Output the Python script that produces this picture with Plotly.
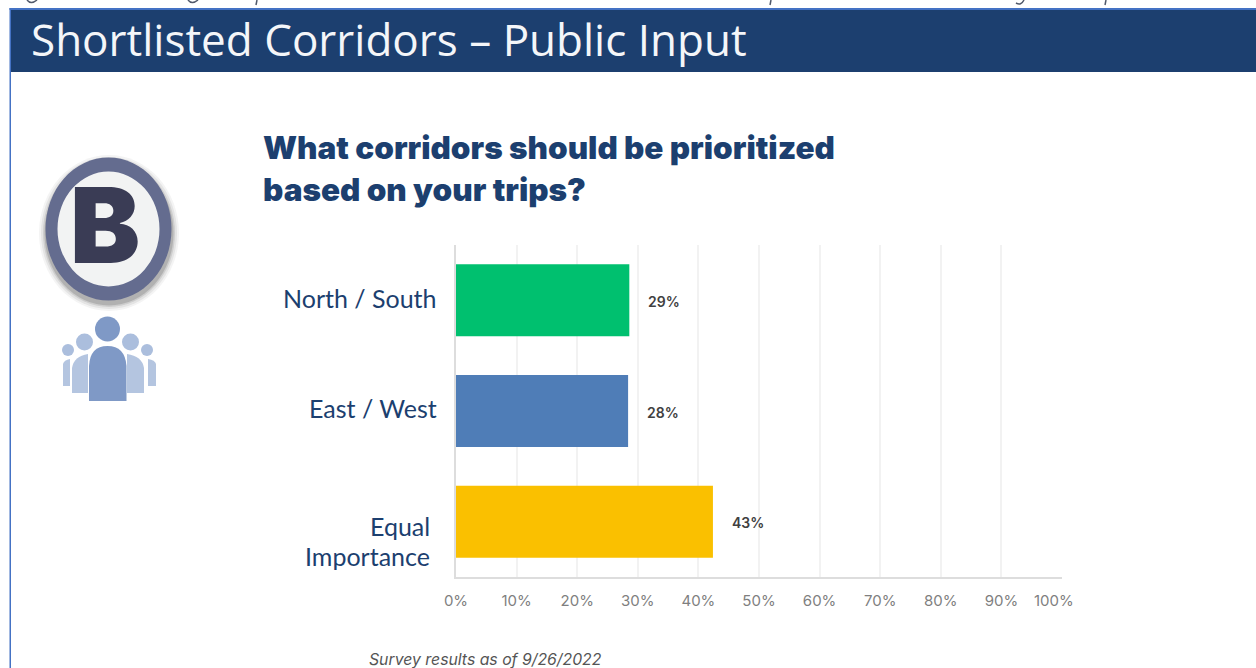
import plotly.graph_objects as go

W, H = 1256, 668

categories = ["North / South", "East / West", "Equal Importance"]
values = [28.6, 28.4, 42.4]
value_labels = ["29%", "28%", "43%"]
bar_colors = ["#00C06F", "#4F7DB7", "#FAC000"]
tick_values = [0, 10, 20, 30, 40, 50, 60, 70, 80, 90, 100]
tick_labels = ["0%", "10%", "20%", "30%", "40%", "50%", "60%", "70%", "80%", "90%", ""]
banner_title = "Shortlisted Corridors – Public Input"
question_lines = ["What corridors should be prioritized", "based on your trips?"]
footnote = "Survey results as of 9/26/2022"

NAVY = "#1C3F6F"
FRAME = "#4472C4"


def px(x):
    return x / W


def py(y):
    return 1 - y / H


def rect(x0, y0, x1, y1, color):
    return dict(type="rect", xref="paper", yref="paper", layer="below",
                x0=px(x0), x1=px(x1), y0=py(y0), y1=py(y1), fillcolor=color,
                line=dict(width=0))


def oval(cx, cy, rx, ry, color, opacity=1):
    return dict(type="circle", xref="paper", yref="paper", layer="below",
                x0=px(cx - rx), x1=px(cx + rx), y0=py(cy - ry), y1=py(cy + ry),
                fillcolor=color, opacity=opacity, line=dict(width=0))


def path(points, color=None, stroke=None, width=0, close=True):
    parts = []
    for p in points:
        if p[0] == "Q":
            parts.append(f"Q{px(p[1]):.5f},{py(p[2]):.5f} {px(p[3]):.5f},{py(p[4]):.5f}")
        else:
            cmd = "M" if not parts else "L"
            parts.append(f"{cmd}{px(p[0]):.5f},{py(p[1]):.5f}")
    d = " ".join(parts) + (" Z" if close else "")
    return dict(type="path", xref="paper", yref="paper", layer="below", path=d,
                fillcolor=color if color else "rgba(0,0,0,0)",
                line=dict(width=width, color=stroke) if width else dict(width=0))


shapes = []
# slide frame and banner
shapes.append(rect(9.5, 8, 11, H, FRAME))
shapes.append(rect(9.5, 8, W, 10, FRAME))
shapes.append(rect(11, 10, W, 72, NAVY))

# clipped descenders of the line of text above the slide
for x in (32, 193):
    shapes.append(path([(x - 5, 0), ("Q", x - 1, 5, x + 5, 0)], stroke="#50586A", width=1.5, close=False))
for x in (256, 770, 1105):
    shapes.append(path([(x + 1, 0), (x, 5)], stroke="#50586A", width=1.5, close=False))
shapes.append(path([(1016, 3), ("Q", 1021, 6, 1024, 0)], stroke="#50586A", width=1.5, close=False))

# "B" badge with soft shadow, heavier below the ring
for grow, op in ((7, 0.05), (5, 0.08), (3, 0.12), (1.5, 0.18)):
    shapes.append(oval(109, 233, 63 + grow, 71 + grow, "#303030", op))
shapes.append(oval(108.5, 229, 63, 71.5, "#646C8F"))
shapes.append(oval(108.5, 229, 51, 57.5, "#F2F3F3"))

# people icon
LIGHT = "#B4C5E0"
MID = "#ABBEDD"
DARK = "#7F99C6"
shapes.append(oval(68, 350, 6, 6, MID))
shapes.append(oval(147, 350, 6, 6, MID))
shapes.append(path([(63, 386), (63, 364), ("Q", 64, 360, 70, 359), (70, 386)], LIGHT))
shapes.append(path([(156, 386), (156, 364), ("Q", 155, 360, 148, 359), (148, 386)], LIGHT))
shapes.append(oval(84.5, 342, 8.5, 8.5, MID))
shapes.append(oval(130.5, 342, 8.5, 8.5, MID))
shapes.append(path([(72, 393), (72, 368), ("Q", 74, 356, 88, 354), (88, 393)], LIGHT))
shapes.append(path([(144, 393), (144, 368), ("Q", 142, 356, 127, 354), (127, 393)], LIGHT))
shapes.append(oval(107.5, 329, 12.5, 12.5, DARK))
shapes.append(path([(89, 401), (89, 366), ("Q", 90, 346, 107.5, 346), ("Q", 125, 346, 126.5, 366), (126.5, 401)], DARK))


def note(x, y, text, size, color, anchor="left", family="Inter", weight="normal", style="normal"):
    return dict(xref="paper", yref="paper", x=px(x), y=py(y), text=text, showarrow=False,
                xanchor=anchor, yanchor="middle", align=anchor,
                font=dict(family=family, size=size, color=color, weight=weight, style=style))


def cat_note(cat, text, xpos, shift):
    return dict(xref="paper", yref="y", x=px(xpos), y=cat, yshift=shift, text=text, showarrow=False,
                xanchor="right", yanchor="middle", align="right",
                font=dict(family="Lato", size=25, color=NAVY))


annotations = [
    note(29, 38.5, banner_title, 44, "#F4F6F9", family="Open Sans"),
    note(261, 148, question_lines[0], 31.5, NAVY, weight=900),
    note(261, 189, question_lines[1], 31.5, NAVY, weight=900),
    note(105, 225, "B", 105, "#3A3C55", anchor="center", weight=900),
    note(1054, 600, "100%", 15, "#7F7F7F", anchor="center"),
    note(367, 659, footnote, 15.8, "#555555", style="italic"),
    cat_note(categories[0], categories[0], 438.5, 2),
    cat_note(categories[1], categories[1], 438.5, 3),
    cat_note(categories[2], "Equal", 432, -4),
    cat_note(categories[2], "Importance", 432, -34),
]
for cat, val, lab in zip(categories, values, value_labels):
    annotations.append(dict(xref="x", yref="y", x=val, y=cat, xshift=17, yshift=-1, text=lab,
                            showarrow=False, xanchor="left", yanchor="middle",
                            font=dict(family="Inter", size=14, color="#404040", weight=600)))

fig = go.Figure(go.Bar(
    y=categories,
    x=values,
    orientation="h",
    marker=dict(color=bar_colors, line=dict(width=0)),
    width=0.65,
))

fig.update_layout(
    width=W, height=H,
    margin=dict(l=0, r=0, t=0, b=0, autoexpand=False),
    paper_bgcolor="#FFFFFF",
    plot_bgcolor="#FFFFFF",
    showlegend=False,
    shapes=shapes,
    annotations=annotations,
    xaxis=dict(
        domain=[px(456), px(1062)],
        range=[0, 100],
        tickvals=tick_values,
        ticktext=tick_labels,
        ticks="",
        ticklabelstandoff=9,
        automargin=False,
        tickfont=dict(family="Inter", size=15, color="#7F7F7F"),
        showgrid=True,
        gridcolor="#F2F2F2",
        gridwidth=1.5,
        zeroline=False,
        showline=True,
        linecolor="#DDDDDD",
        linewidth=2,
        fixedrange=True,
    ),
    yaxis=dict(
        domain=[py(577), py(245)],
        autorange="reversed",
        showticklabels=False,
        ticks="",
        automargin=False,
        showgrid=False,
        zeroline=False,
        showline=True,
        linecolor="#DDDDDD",
        linewidth=2,
        fixedrange=True,
    ),
)

fig.write_html("out.html", config=dict(displayModeBar=False),
               post_script="document.body.style.margin='0';document.body.style.overflow='hidden';")
